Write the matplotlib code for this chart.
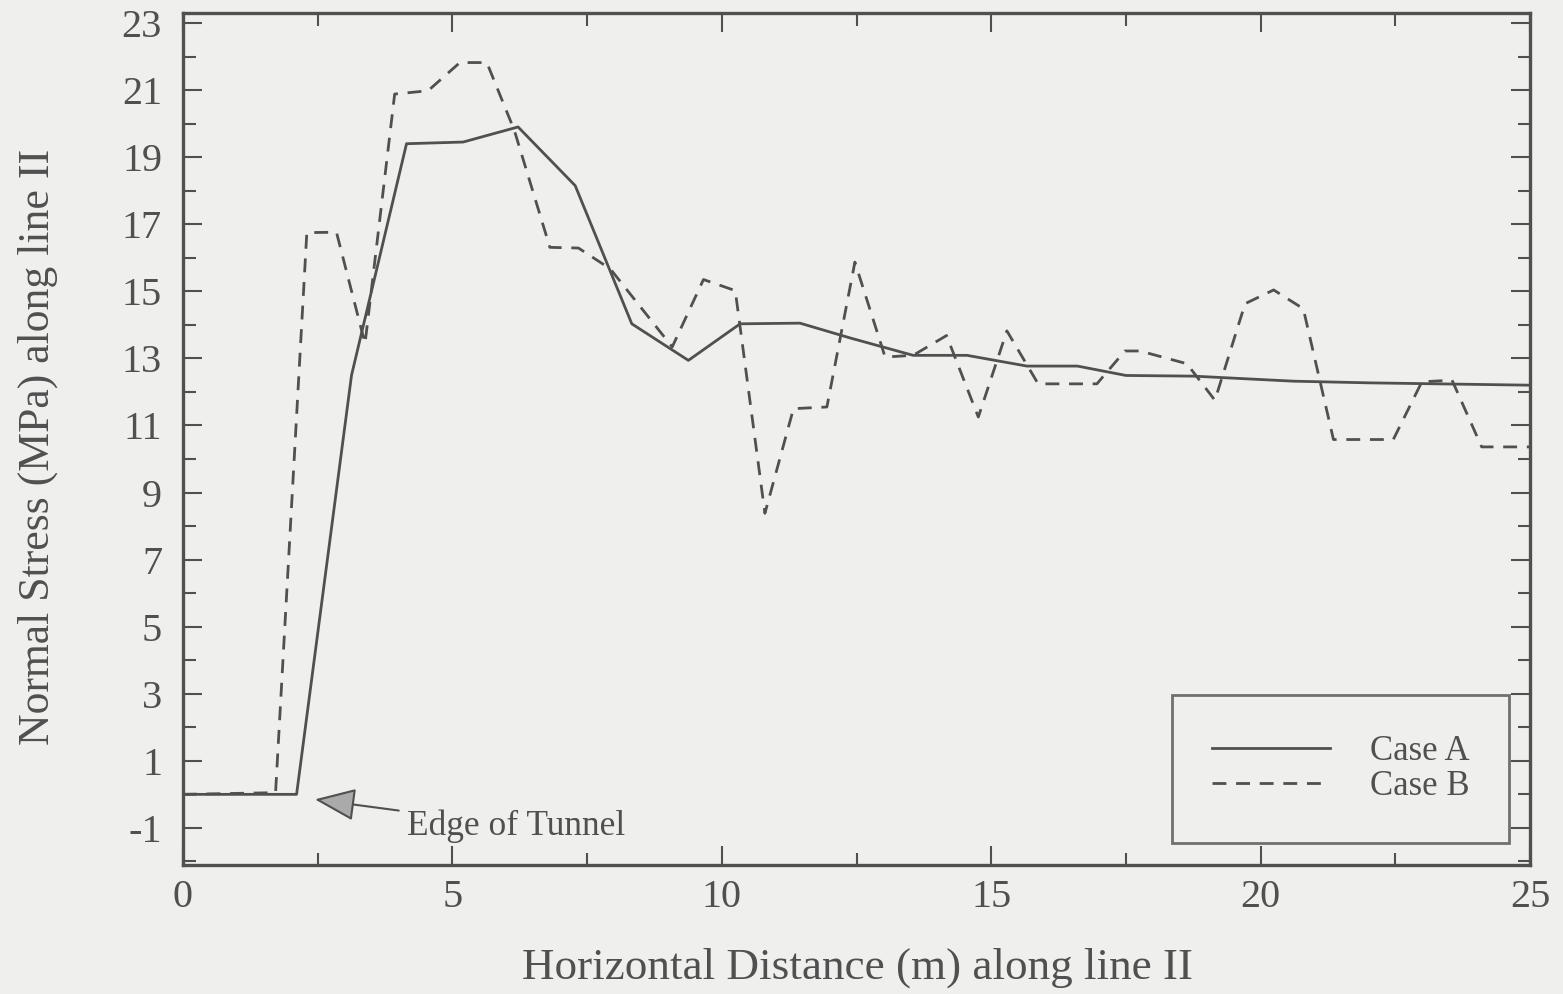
import matplotlib.pyplot as plt
from matplotlib.ticker import MultipleLocator

# Normal stress along line II for the two cases
case_a_x = [0.0, 2.11, 3.13, 4.15, 5.2, 6.22, 7.28, 8.33, 9.38, 10.34, 11.45,
            12.4, 13.55, 14.55, 15.66, 16.6, 17.5, 18.75, 20.6, 22.0, 25.0]
case_a_y = [0.0, 0.0, 12.5, 19.4, 19.45, 19.9, 18.15, 14.03, 12.94, 14.03, 14.05,
            13.6, 13.09, 13.09, 12.77, 12.77, 12.49, 12.47, 12.32, 12.27, 12.2]

case_b_x = [0.0, 1.72, 2.3, 2.85, 3.38, 3.93, 4.55, 5.14, 5.64, 6.15, 6.81,
            7.34, 7.93, 9.08, 9.66, 10.25, 10.8, 11.33, 11.95, 12.47, 13.03,
            13.55, 14.17, 14.76, 15.29, 15.87, 16.96, 17.48, 17.76, 18.63,
            19.15, 19.71, 20.24, 20.79, 21.35, 22.46, 22.99, 23.55, 24.1, 25.0]
case_b_y = [0.0, 0.05, 16.75, 16.76, 13.44, 20.88, 20.98, 21.82, 21.82, 19.8, 16.31,
            16.29, 15.67, 13.34, 15.35, 15.02, 8.38, 11.5, 11.55, 15.87, 13.04,
            13.09, 13.68, 11.25, 13.82, 12.24, 12.24, 13.22, 13.22, 12.84,
            11.75, 14.63, 15.04, 14.48, 10.58, 10.58, 12.3, 12.35, 10.36, 10.36]

y_ticks = list(range(-1, 24, 2))
x_ticks = [0, 5, 10, 15, 20, 25]

ink = "#505050"
paper = "#efefed"
plt.rcParams["font.family"] = ["Liberation Serif", "DejaVu Serif"]
plt.rcParams["text.color"] = ink
plt.rcParams["axes.unicode_minus"] = False

fig = plt.figure(figsize=(15.63, 9.94), dpi=100, facecolor=paper)
ax = fig.add_axes([0.117, 0.13, 0.862, 0.857])
ax.set_facecolor(paper)

ax.plot(case_a_x, case_a_y, color=ink, lw=2.0, label="Case A")
ax.plot(case_b_x, case_b_y, color=ink, lw=2.0, linestyle=(0, (5, 3.5)), label="Case B")

ax.set_xlim(0, 25)
ax.set_ylim(-2.1, 23.3)
ax.set_xticks(x_ticks)
ax.xaxis.set_minor_locator(MultipleLocator(2.5))
ax.set_yticks(y_ticks)
ax.yaxis.set_minor_locator(MultipleLocator(1))
ax.tick_params(which="both", direction="in", top=True, right=True, colors=ink,
               labelsize=29, width=1.5)
ax.tick_params(which="major", length=14)
ax.tick_params(which="minor", length=9)
ax.tick_params(axis="x", which="major", pad=10)
ax.tick_params(axis="y", which="major", pad=15)
for s in ax.spines.values():
    s.set_color(ink)
    s.set_linewidth(2.4)

ax.set_xlabel("Horizontal Distance (m) along line II", fontsize=32.5, color=ink)
ax.set_ylabel("Normal Stress (MPa) along line II", fontsize=31.5, color=ink)
ax.xaxis.set_label_coords(0.501, -0.097)
ax.yaxis.set_label_coords(-0.093, 0.49)

ax.annotate("Edge of Tunnel", xy=(2.45, -0.15), xytext=(4.16, -0.95),
            fontsize=25.5, color=ink, va="center", ha="left",
            arrowprops=dict(arrowstyle="-|>,head_length=1.0,head_width=0.4",
                            color=ink, fc="#aaaaaa", lw=1.5, shrinkA=4, shrinkB=0))

leg = ax.legend(loc="lower right", bbox_to_anchor=(0.9844, 0.0258), fontsize=25,
                frameon=True, fancybox=False, handlelength=3.4,
                borderpad=1.15, labelspacing=0.05, handletextpad=1.15,
                borderaxespad=0)
leg.get_frame().set_edgecolor(ink)
leg.get_frame().set_linewidth(2.0)
leg.get_frame().set_facecolor(paper)
for t in leg.get_texts():
    t.set_color(ink)

fig.savefig("out.png", dpi=100, facecolor=fig.get_facecolor())
